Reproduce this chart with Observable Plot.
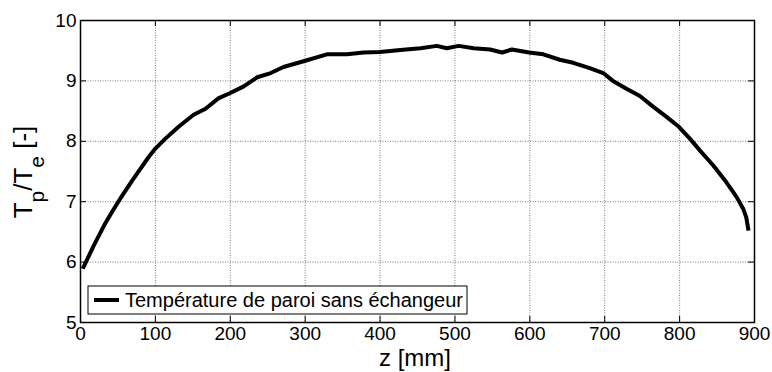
<!DOCTYPE html>
<html><head><meta charset="utf-8">
<script src="https://cdn.jsdelivr.net/npm/d3@7"></script>
<script src="https://cdn.jsdelivr.net/npm/@observablehq/plot@0.6"></script>
<style>body{margin:0;background:#fff} svg{display:block}</style>
</head><body><div id="chart"></div>
<script>
// Data
const zValues = [3, 18, 33, 42, 53, 69, 91, 100, 113, 131, 151, 167, 184, 200, 218, 236, 254, 271, 299, 329, 356, 378, 400, 427, 454, 476, 489, 505, 525, 547, 563, 576, 599, 618, 640, 658, 680, 698, 711, 729, 747, 765, 783, 799, 814, 827, 845, 862, 876, 885, 889, 892];
const tpTe = [5.89, 6.28, 6.64, 6.83, 7.05, 7.35, 7.74, 7.88, 8.04, 8.24, 8.44, 8.54, 8.71, 8.80, 8.91, 9.06, 9.13, 9.23, 9.33, 9.44, 9.44, 9.47, 9.48, 9.51, 9.54, 9.58, 9.54, 9.58, 9.54, 9.52, 9.47, 9.52, 9.47, 9.44, 9.35, 9.30, 9.21, 9.13, 9.00, 8.87, 8.75, 8.57, 8.40, 8.24, 8.04, 7.85, 7.60, 7.33, 7.08, 6.88, 6.74, 6.52];
const xTicks = [0, 100, 200, 300, 400, 500, 600, 700, 800, 900];
const yTicks = [5, 6, 7, 8, 9, 10];
const xDomain = [0, 900];
const yDomain = [5, 10];
const seriesName = "Température de paroi sans échangeur";
const xLabel = "z [mm]";

const data = zValues.map((z, i) => ({z, v: tpTe[i]}));
const font = "'Liberation Sans', Arial, Helvetica, sans-serif";
const W = 772, H = 372, mL = 80, mR = 18, mT = 20, mB = 50;
const innerW = W - mL - mR, innerH = H - mT - mB, tk = 6;
const tickStyle = {stroke: "#000", strokeWidth: 1};

const chart = Plot.plot({
  width: W, height: H,
  marginLeft: mL, marginRight: mR, marginTop: mT, marginBottom: mB,
  style: {fontFamily: font, background: "#fff", color: "#000"},
  x: {domain: xDomain},
  y: {domain: yDomain},
  marks: [
    Plot.gridX(xTicks, {stroke: "#7a7a7a", strokeOpacity: 1, strokeDasharray: "1,1.5", strokeWidth: 1}),
    Plot.gridY(yTicks, {stroke: "#7a7a7a", strokeOpacity: 1, strokeDasharray: "1,1.5", strokeWidth: 1}),
    Plot.ruleX(xTicks, {x: d => d, insetTop: innerH - tk, ...tickStyle}),
    Plot.ruleX(xTicks, {x: d => d, insetBottom: innerH - tk, ...tickStyle}),
    Plot.ruleY(yTicks, {y: d => d, insetRight: innerW - tk, ...tickStyle}),
    Plot.ruleY(yTicks, {y: d => d, insetLeft: innerW - tk, ...tickStyle}),
    Plot.axisX(xTicks, {anchor: "bottom", tickSize: 0, tickPadding: 4, fontSize: 19, label: null, fill: "#000", tickFormat: d => String(d)}),
    Plot.axisY(yTicks, {anchor: "left", tickSize: 0, tickPadding: 4, fontSize: 19, label: null, fill: "#000", tickFormat: d => String(d)}),
    Plot.line(data, {x: "z", y: "v", stroke: "#000", strokeWidth: 4, strokeLinejoin: "round", strokeLinecap: "butt"}),
    Plot.frame({stroke: "#000", strokeWidth: 1.5})
  ]
});
document.getElementById("chart").appendChild(chart);

const svg = d3.select(chart);
// x label
svg.append("text").attr("x", 415).attr("y", 366).attr("text-anchor", "middle")
  .attr("font-family", font).attr("font-size", 24).attr("fill", "#000").text(xLabel);
// y label with subscripts
const yl = svg.append("text").attr("transform", "translate(32,172) rotate(-90)")
  .attr("text-anchor", "middle").attr("font-family", font).attr("fill", "#000").attr("font-size", 26);
yl.append("tspan").text("T");
yl.append("tspan").attr("font-size", 21).attr("dy", 12).text("p");
yl.append("tspan").attr("dy", -12).text("/T");
yl.append("tspan").attr("font-size", 21).attr("dy", 12).text("e");
yl.append("tspan").attr("dy", -12).text(" [-]");
// legend
const lg = svg.append("g");
lg.append("rect").attr("x", 88).attr("y", 286).attr("width", 379).attr("height", 28)
  .attr("fill", "#fff").attr("stroke", "#000").attr("stroke-width", 1);
lg.append("line").attr("x1", 94).attr("x2", 119).attr("y1", 300).attr("y2", 300)
  .attr("stroke", "#000").attr("stroke-width", 4);
lg.append("text").attr("x", 125).attr("y", 307).attr("text-anchor", "start").attr("font-family", font).attr("font-size", 20)
  .attr("fill", "#000").text(seriesName);
</script>
</body></html>
